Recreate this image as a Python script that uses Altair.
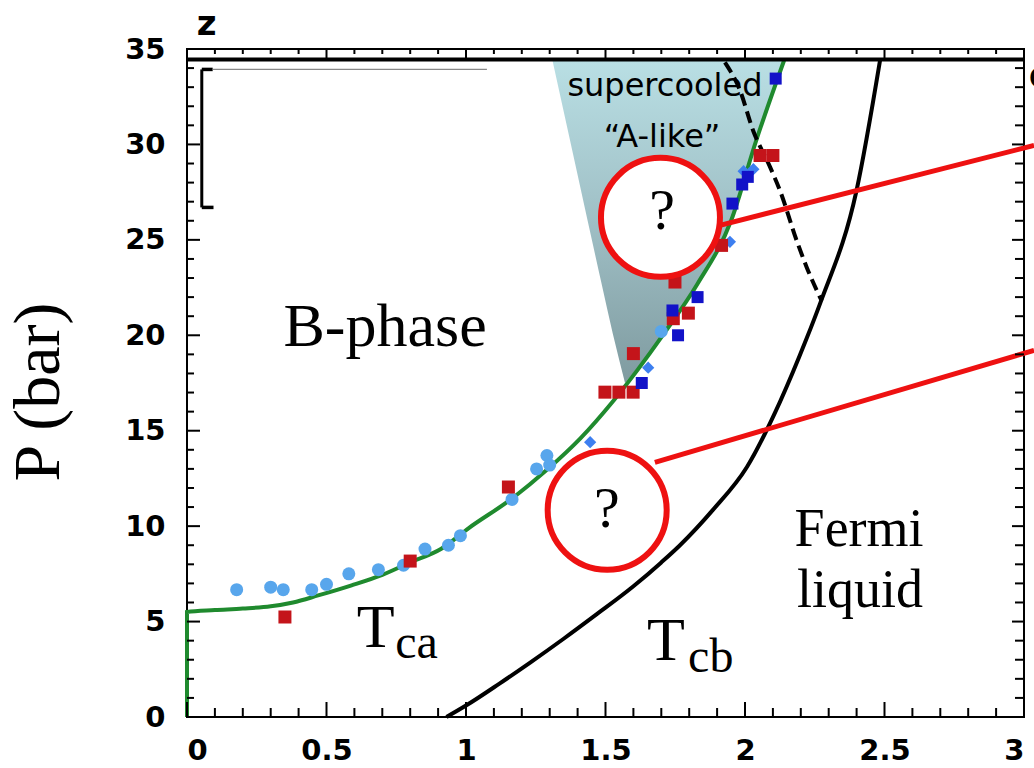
import altair as alt
import pandas as pd

W, H = 837, 668

# ---- curves ----
green_x = [0, 0, 0.1, 0.2, 0.3, 0.38, 0.47, 0.59, 0.70, 0.80, 0.91, 1.01, 1.17, 1.29, 1.41, 1.53, 1.71, 1.83, 1.95, 2.04, 2.14]
green_y = [0, 5.5, 5.6, 5.68, 5.8, 6.0, 6.37, 6.9, 7.45, 8.1, 8.8, 9.9, 11.5, 12.95, 14.6, 16.6, 20.1, 22.7, 26.0, 30.2, 34.4]

tcb_x = [0.93, 1.0, 1.12, 1.23, 1.35, 1.47, 1.6, 1.7, 1.767, 1.885, 2.007, 2.125, 2.22, 2.27, 2.40, 2.484]
tcb_y = [0, 0.6, 1.75, 2.85, 4.1, 5.4, 6.85, 8.1, 9.0, 10.85, 13.1, 16.5, 19.8, 21.7, 27.6, 34.4]

dash_x = [1.928, 1.982, 2.029, 2.09, 2.125, 2.185, 2.221, 2.275]
dash_y = [34.3, 32.83, 30.73, 28.81, 27.6, 24.97, 23.57, 21.8]

# shaded "supercooled A-like" region
shade_y = [17.5, 20.1, 22.7, 26.0, 30.2, 34.4]
shade_left = [1.57, 1.526, 1.486, 1.436, 1.373, 1.31]
shade_right = [1.57, 1.71, 1.83, 1.95, 2.04, 2.14]

# ---- data points ----
lb_x = [0.178, 0.30, 0.345, 0.447, 0.50, 0.58, 0.686, 0.776, 0.853, 0.937, 0.98, 1.165, 1.253, 1.29, 1.30, 1.70]
lb_y = [6.67, 6.8, 6.67, 6.67, 6.95, 7.5, 7.72, 7.95, 8.8, 9.0, 9.5, 11.4, 13.0, 13.7, 13.2, 20.2]

red_x = [0.351, 0.80, 1.152, 1.498, 1.548, 1.599, 1.60, 1.743, 1.797, 1.749, 1.916, 2.054, 2.10]
red_y = [5.24, 8.17, 12.05, 17.02, 17.02, 17.02, 19.04, 20.87, 21.16, 22.79, 24.71, 29.42, 29.42]

blue_x = [1.63, 1.74, 1.76, 1.83, 1.955, 1.99, 2.01, 2.11]
blue_y = [17.5, 21.3, 20.0, 22.0, 26.9, 27.9, 28.3, 33.45]

dia_x = [1.445, 1.653, 1.946, 1.995, 2.03]
dia_y = [14.4, 18.3, 24.9, 28.6, 28.7]

# red callout lines and circles
line1_x = [1.91, 3.036]
line1_y = [25.76, 29.95]
line2_x = [1.677, 3.036]
line2_y = [13.34, 19.21]
circle_x = [1.697, 1.506]
circle_y = [26.18, 10.83]
qmark_x = [1.703, 1.505]
qmark_y = [25.59, 9.98]

# ticks
x_major = [0, 0.5, 1, 1.5, 2, 2.5, 3]
x_minor = [0.1, 0.2, 0.3, 0.4, 0.6, 0.7, 0.8, 0.9, 1.1, 1.2, 1.3, 1.4, 1.6, 1.7, 1.8, 1.9,
           2.1, 2.2, 2.3, 2.4, 2.6, 2.7, 2.8, 2.9]
y_major = [0, 5, 10, 15, 20, 25, 30, 35]
y_minor = [1, 2, 3, 4, 6, 7, 8, 9, 11, 12, 13, 14, 16, 17, 18, 19, 21, 22, 23, 24,
           26, 27, 28, 29, 31, 32, 33, 34]

SERIF = "Liberation Serif"
SANS = "DejaVu Sans"

xs = alt.Scale(domain=[0, 3], nice=False, zero=False)
ys = alt.Scale(domain=[0, 35], nice=False, zero=False)
AX = alt.Axis(values=x_major, format="~g", labelPadding=19, title=None)
AY = alt.Axis(values=y_major, format="d", labelPadding=22, title=None)


def X(f="x"):
    return alt.X(f"{f}:Q", scale=xs, axis=AX, title=None)


def Y(f="y"):
    return alt.Y(f"{f}:Q", scale=ys, axis=AY, title=None)


def line_df(xv, yv):
    return pd.DataFrame({"x": xv, "y": yv, "i": list(range(len(xv)))})


shade = alt.Chart(pd.DataFrame({"y": shade_y, "xl": shade_left, "xr": shade_right})).mark_area(
    orient="horizontal", interpolate="monotone",
    fill=alt.Gradient(gradient="linear",
                      stops=[alt.GradientStop(color="#b9dfe4", offset=0),
                             alt.GradientStop(color="#9fbfc5", offset=0.5),
                             alt.GradientStop(color="#7f9ba0", offset=1)],
                      x1=0, x2=0, y1=0, y2=1),
).encode(y=Y("y"), x=X("xl"), x2="xr:Q")

green = alt.Chart(line_df(green_x, green_y)).mark_line(color="#1f8a2e", strokeWidth=4, interpolate="monotone").encode(
    x=X(), y=Y(), order="i:Q")
tcb = alt.Chart(line_df(tcb_x, tcb_y)).mark_line(color="black", strokeWidth=4, interpolate="monotone").encode(
    x=X(), y=Y(), order="i:Q")
dash = alt.Chart(line_df(dash_x, dash_y)).mark_line(color="black", strokeWidth=4, strokeDash=[12, 6],
                                                    interpolate="monotone").encode(
    x=X(), y=Y(), order="i:Q")

lb = alt.Chart(pd.DataFrame({"x": lb_x, "y": lb_y})).mark_point(
    shape="circle", filled=True, size=169, color="#58a6ec", opacity=1).encode(x=X(), y=Y())
red = alt.Chart(pd.DataFrame({"x": red_x, "y": red_y})).mark_point(
    shape="square", filled=True, size=169, color="#c4141a", opacity=1).encode(x=X(), y=Y())
blue = alt.Chart(pd.DataFrame({"x": blue_x, "y": blue_y})).mark_point(
    shape="square", filled=True, size=144, color="#1212c8", opacity=1).encode(x=X(), y=Y())
dia = alt.Chart(pd.DataFrame({"x": dia_x, "y": dia_y})).mark_point(
    shape="diamond", filled=True, size=150, color="#3d7ff0", opacity=1).encode(x=X(), y=Y())

rl1 = alt.Chart(line_df(line1_x, line1_y)).mark_line(color="#ee1111", strokeWidth=5).encode(x=X(), y=Y(), order="i:Q")
rl2 = alt.Chart(line_df(line2_x, line2_y)).mark_line(color="#ee1111", strokeWidth=5).encode(x=X(), y=Y(), order="i:Q")
circles = alt.Chart(pd.DataFrame({"x": circle_x, "y": circle_y})).mark_point(
    shape="circle", size=14161, fill="white", stroke="#ee1111", strokeWidth=6, opacity=1, fillOpacity=1
).encode(x=X(), y=Y())
qmarks = alt.Chart(pd.DataFrame({"x": qmark_x, "y": qmark_y, "t": ["?", "?"]})).mark_text(
    font=SERIF, fontSize=58, align="center", baseline="alphabetic", color="black"
).encode(x=X(), y=Y(), text="t:N")


def txt(t, x, y, size, font=SERIF, align="center", weight="normal"):
    return alt.Chart(pd.DataFrame({"x": [x], "y": [y], "t": [t]})).mark_text(
        font=font, fontSize=size, align=align, baseline="alphabetic", color="black", fontWeight=weight
    ).encode(x=X(), y=Y(), text="t:N")


labels = [
    txt("B-phase", 0.71, 19.42, 62),
    txt("Fermi", 2.409, 8.94, 54),
    txt("liquid", 2.412, 5.75, 54),
    txt("T", 0.676, 3.65, 62),
    txt("ca", 0.746, 3.07, 48, align="left"),
    txt("T", 1.717, 2.97, 62),
    txt("cb", 1.796, 2.34, 48, align="left"),
    txt("supercooled", 1.713, 32.56, 32, font=SANS),
    txt("\u201cA-like\u201d", 1.703, 29.86, 32, font=SANS),
    txt("z", 0.07, 35.71, 34, font=SANS, weight="bold"),
    txt("C", 3.018, 32.98, 28, font=SANS, weight="bold", align="left"),
]

ytitle = alt.Chart(pd.DataFrame({"t": ["P (bar)"]})).mark_text(
    font=SERIF, fontSize=66, angle=270, align="center", baseline="alphabetic", color="black"
).encode(x=alt.value(-128), y=alt.value(343), text="t:N")


# inward ticks
def ticks_x(vals, size, ypix, yoff):
    return alt.Chart(pd.DataFrame({"x": vals})).mark_tick(
        orient="vertical", size=size, thickness=2, yOffset=yoff, color="black", opacity=1
    ).encode(x=X(), y=alt.value(ypix))


def ticks_y(vals, size, xpix, xoff):
    return alt.Chart(pd.DataFrame({"y": vals})).mark_tick(
        orient="horizontal", size=size, thickness=2, xOffset=xoff, color="black", opacity=1
    ).encode(y=Y(), x=alt.value(xpix))


tick_layers = [
    ticks_x(x_minor, 9, H, -4.5),
    ticks_x(x_major, 15, H, -7.5),
    ticks_x(x_minor, 5, 0, 2.5),
    ticks_x(x_major, 10, 0, 5),
    ticks_y(y_minor, 7, 0, 3.5),
    ticks_y(y_major, 13, 0, 6.5),
    ticks_y(y_minor, 9, W, -4.5),
    ticks_y(y_major, 12, W, -6),
]

top_rule = alt.Chart(pd.DataFrame({"y": [34.45]})).mark_rule(color="black", strokeWidth=4).encode(
    y=Y(), x=alt.value(0), x2=alt.value(W))

# the small bracket near the top-left corner and the thin line next to it
bracket = alt.Chart(pd.DataFrame({"x": [0.053], "y": [33.93], "y2": [26.7]})).mark_rule(
    color="black", strokeWidth=3).encode(x=X(), y=Y(), y2="y2:Q")
bracket_caps = alt.Chart(pd.DataFrame({"x": [0.053, 0.053], "x2": [0.092, 0.095], "y": [33.93, 26.7]})).mark_rule(
    color="black", strokeWidth=3.5).encode(x=X(), x2="x2:Q", y=Y())
thin = alt.Chart(pd.DataFrame({"x": [0.092], "x2": [1.075], "y": [33.93]})).mark_rule(
    color="#888888", strokeWidth=1.2).encode(x=X(), x2="x2:Q", y=Y())

chart = alt.layer(
    shade, green, tcb, dash, lb, dia, red, blue,
    rl1, rl2, circles, qmarks, *labels, ytitle, *tick_layers, top_rule,
    bracket, bracket_caps, thin,
).properties(
    width=W, height=H,
    autosize=alt.AutoSizeParams(type="none"),
    padding={"left": 187, "top": 49, "right": 10, "bottom": 51},
    background="white",
).configure_view(
    stroke="black", strokeWidth=2
).configure_axis(
    domain=False, ticks=False, grid=False,
    labelFont=SANS, labelFontWeight="bold", labelFontSize=29, labelColor="black",
)

chart.save("out.html", embed_options={"renderer": "svg", "actions": False})
